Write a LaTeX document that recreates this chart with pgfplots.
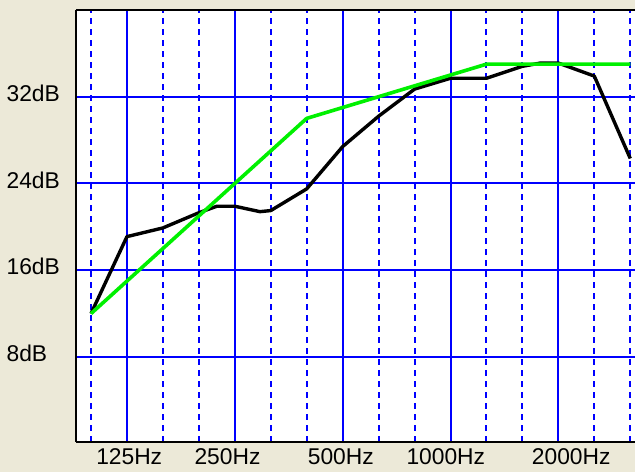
\documentclass[border=0pt]{standalone}
\usepackage{pgfplots}
\pgfplotsset{compat=1.18}
\usepackage{fontspec}
\setmainfont{Liberation Sans}
\definecolor{xpbeige}{RGB}{236,233,216}
\definecolor{gridblue}{RGB}{0,0,255}
\definecolor{targetgreen}{RGB}{0,240,0}

\begin{document}
\begin{tikzpicture}
% page area (1px = 0.5pt), axis box sits at the origin
\path[use as bounding box, fill=xpbeige] (-38pt,-15.2pt) rectangle (279.5pt,220.8pt);
\begin{axis}[
    at={(0,0)}, anchor=south west,
    scale only axis,
    width=279.5pt, height=215.84pt,
    xmin=-0.417, xmax=15.132,
    ymin=0.2, ymax=40,
    axis x line*=box, axis y line*=left,
    axis background/.style={fill=white},
    axis line style={black, line width=1.1pt, -},
    % solid grid at the octave bands
    xtick={1,4,7,10,13},
    xticklabels={,,,,},
    minor xtick={0,2,3,5,6,8,9,11,12,14,15},
    xmajorgrids, xminorgrids,
    ytick={8,16,24,32},
    yticklabels={8dB,16dB,24dB,32dB},
    ymajorgrids,
    major grid style={gridblue, line width=1pt, solid},
    minor grid style={gridblue, line width=1pt, dash pattern=on 3pt off 2.5pt},
    major tick length=0pt, minor tick length=0pt,
    % labels sit a little off the grid lines, as in the original
    extra x ticks={1.063,3.797,6.949,9.869,13.357},
    extra x tick labels={125Hz,250Hz,500Hz,1000Hz,2000Hz},
    extra x tick style={xmajorgrids=false, major tick length=0pt},
    tick label style={font=\fontsize{11.4}{13}\selectfont, text=black},
    xticklabel style={anchor=north, inner sep=0pt, yshift=-3.5pt},
    yticklabel style={anchor=east, inner sep=0pt, text width=34.5pt, align=left, yshift=1.7pt},
]
% measured response
\addplot[black, line width=1.7pt, line join=round] coordinates {
    (0,12) (1,19.1) (2,19.9) (3,21.3) (3.5,21.9) (4,21.9) (4.7,21.4) (5,21.5)
    (6,23.5) (7,27.4) (8,30.2) (9,32.7) (10,33.7) (11,33.7) (12,34.8)
    (12.5,35.1) (13,35.1) (14,33.9) (15,26.3)
};
% target curve
\addplot[targetgreen, line width=1.8pt, line join=round] coordinates {
    (0,12) (1,15) (2,18) (3,21) (4,24) (5,27) (6,30) (7,31) (8,32)
    (9,33) (10,34) (11,35) (12,35) (13,35) (14,35) (15,35)
};
\end{axis}
\end{tikzpicture}
\end{document}
